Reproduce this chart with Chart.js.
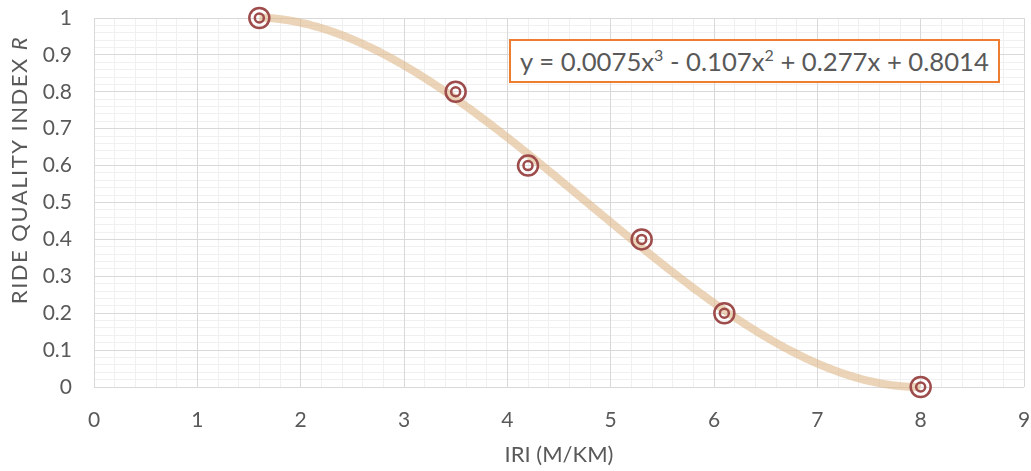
<!DOCTYPE html>
<html>
<head>
<meta charset="utf-8">
<script src="https://cdn.jsdelivr.net/npm/chart.js@4"></script>
<style>
body { margin: 0; background: #fff; }
.wrap { position: relative; width: 1031px; height: 471px; }
.eq {
    position: absolute; left: 509px; top: 39px; width: 487px; height: 40px;
    border: 2px solid #ED7D31; background: #fff;
    font-family: Lato, sans-serif; font-size: 25.7px; color: #595959;
    line-height: 40px; text-align: center; white-space: nowrap;
}
.eq sup { font-size: 16px; line-height: 0; vertical-align: 10px; }
</style>
</head>
<body>
<div class="wrap">
    <canvas id="rqiChart" width="1031" height="471"></canvas>
    <div class="eq">y = 0.0075x<sup>3</sup> - 0.107x<sup>2</sup> + 0.277x + 0.8014</div>
</div>
<script>
const iri = [1.6, 3.5, 4.2, 5.3, 6.1, 8];
const rqi = [1, 0.8, 0.6, 0.4, 0.2, 0];

const points = iri.map((x, i) => ({ x: x, y: rqi[i] }));

const tickColor = '#595959';
const tickFont = { family: 'Lato', size: 21 };

// least squares polynomial fit (the chart's cubic trendline)
function polyFit(xs, ys, deg) {
    const n = deg + 1;
    const A = [];
    for (let i = 0; i < n; i++) {
        A.push([]);
        for (let j = 0; j < n; j++) {
            A[i].push(xs.reduce((s, x) => s + Math.pow(x, i + j), 0));
        }
        A[i].push(xs.reduce((s, x, k) => s + ys[k] * Math.pow(x, i), 0));
    }
    for (let c = 0; c < n; c++) {
        let p = c;
        for (let r = c + 1; r < n; r++) {
            if (Math.abs(A[r][c]) > Math.abs(A[p][c])) p = r;
        }
        [A[c], A[p]] = [A[p], A[c]];
        for (let r = 0; r < n; r++) {
            if (r === c) continue;
            const f = A[r][c] / A[c][c];
            for (let k = c; k <= n; k++) A[r][k] -= f * A[c][k];
        }
    }
    return A.map((row, i) => row[n] / row[i]);
}

const coef = polyFit(iri, rqi, 3);

const trendline = {
    id: 'trendline',
    beforeDatasetsDraw(chart) {
        const xs = chart.scales.x;
        const ys = chart.scales.y;
        const ctx = chart.ctx;
        const p0 = xs.getPixelForValue(Math.min(...iri));
        const p1 = xs.getPixelForValue(Math.max(...iri));
        ctx.save();
        ctx.beginPath();
        for (let px = p0; px <= p1 + 0.01; px += 1) {
            const x = xs.getValueForPixel(px);
            const y = coef.reduce((s, c, i) => s + c * Math.pow(x, i), 0);
            const py = ys.getPixelForValue(y);
            if (px === p0) ctx.moveTo(px, py); else ctx.lineTo(px, py);
        }
        ctx.strokeStyle = 'rgba(224,184,136,0.6)';
        ctx.lineWidth = 8;
        ctx.lineJoin = 'round';
        ctx.stroke();
        ctx.restore();
    }
};

/* y title with italic R */
const yTitle = {
    id: 'yTitle',
    afterDraw(chart) {
        const ctx = chart.ctx;
        const a = 'RIDE QUALITY INDEX ';
        ctx.save();
        ctx.translate(20, 170);
        ctx.rotate(-Math.PI / 2);
        ctx.fillStyle = tickColor;
        ctx.textBaseline = 'middle';
        ctx.textAlign = 'left';
        ctx.letterSpacing = '1.5px';
        ctx.font = 'italic 22px Lato';
        const wb = ctx.measureText('R').width;
        ctx.font = '22px Lato';
        const wa = ctx.measureText(a).width;
        const x0 = -(wa + wb) / 2;
        ctx.fillText(a, x0, 0);
        ctx.font = 'italic 22px Lato';
        ctx.fillText('R', x0 + wa, 0);
        ctx.restore();
    }
};

const ctx = document.getElementById('rqiChart').getContext('2d');

new Chart(ctx, {
    type: 'scatter',
    data: {
        datasets: [{
            data: points,
            pointRadius: 10,
            pointHoverRadius: 10,
            borderColor: '#9E4B4B',
            backgroundColor: 'transparent',
            borderWidth: 2.5,
            clip: false,
            order: 0
        }, {
            data: points,
            pointRadius: 4.5,
            pointHoverRadius: 4.5,
            borderColor: '#9E4B4B',
            backgroundColor: 'transparent',
            borderWidth: 2.5,
            clip: false,
            order: 1
        }]
    },
    options: {
        responsive: false,
        animation: false,
        layout: { autoPadding: false, padding: { top: 18, right: 7, left: 0, bottom: 0 } },
        plugins: {
            legend: { display: false },
            tooltip: { enabled: false }
        },
        scales: {
            x: {
                type: 'linear',
                min: 0,
                max: 9,
                ticks: { stepSize: 1, color: tickColor, font: tickFont, padding: 21 },
                grid: { color: '#d9d9d9', drawTicks: false },
                border: { display: false },
                title: {
                    display: true,
                    text: 'IRI (M/KM)',
                    color: tickColor,
                    font: { family: 'Lato', size: 22 },
                    padding: { top: 0, bottom: 3 }
                },
                afterFit(scale) {
                    scale.height = 84;
                    scale.paddingLeft = 0;
                    scale.paddingRight = 0;
                }
            },
            y: {
                min: 0,
                max: 1,
                ticks: {
                    stepSize: 0.1,
                    color: tickColor,
                    font: tickFont,
                    padding: 22,
                    callback: v => String(Number(v.toFixed(1)))
                },
                grid: { color: '#d9d9d9', drawTicks: false },
                border: { display: false },
                afterFit(scale) {
                    scale.width = 94;
                    scale.paddingTop = 0;
                    scale.paddingBottom = 0;
                }
            },
            xMinor: {
                type: 'linear',
                position: 'top',
                min: 0,
                max: 9,
                ticks: { display: false, stepSize: 0.2, maxTicksLimit: 100, autoSkip: false },
                grid: { color: '#f0f0f0', drawTicks: false, z: -2 },
                border: { display: false },
                afterFit(scale) { scale.height = 0; }
            },
            yMinor: {
                type: 'linear',
                position: 'right',
                min: 0,
                max: 1,
                ticks: { display: false, stepSize: 0.02, maxTicksLimit: 100, autoSkip: false },
                grid: { color: '#f0f0f0', drawTicks: false, z: -2 },
                border: { display: false },
                afterFit(scale) { scale.width = 0; }
            }
        }
    },
    plugins: [trendline, yTitle]
});
</script>
</body>
</html>
